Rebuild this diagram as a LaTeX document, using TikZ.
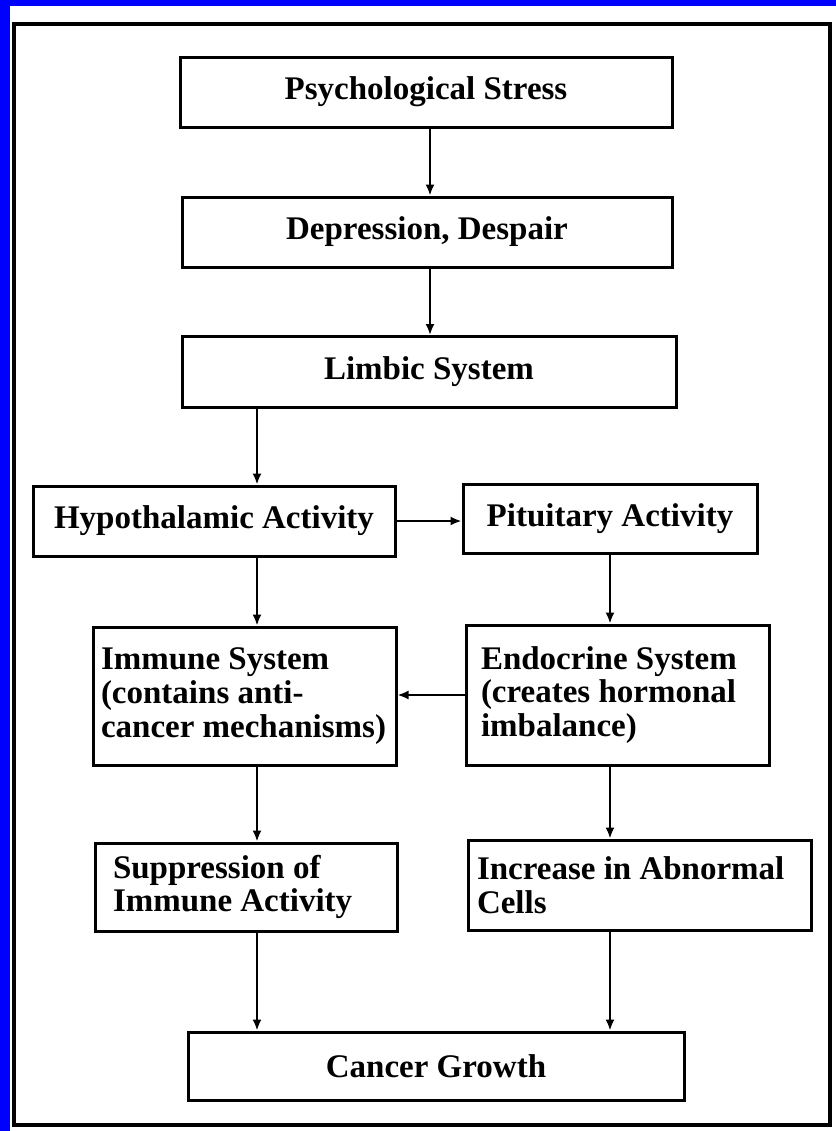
\documentclass[tikz,border=0pt]{standalone}
\usepackage{fontspec}
\setmainfont{Liberation Serif}
\usetikzlibrary{arrows.meta}

\begin{document}
\begin{tikzpicture}[x=0.5pt,y=-0.5pt]

      \fill[blue] (0,0) rectangle (836,1131);
      \fill[white] (10,6) rectangle (836,1131);
      \useasboundingbox (0,0) rectangle (836,1131);
      \draw[line width=2pt] (14,24) rectangle (830,1125);

      \coordinate (l) at (257,0);
      \coordinate (c) at (430,0);
      \coordinate (r) at (610,0);

      \begin{scope}[every node/.style={rectangle,draw,line width=1.5pt,font=\bfseries\fontsize{16.5}{16.8}\selectfont}]
        \node[minimum width=246pt,minimum height=35pt] (1) at (426,92) {Psychological Stress};
        \node[minimum width=245pt,minimum height=35pt] (2) at (427,232) {Depression, Despair};
        \node[minimum width=247pt,minimum height=35.5pt] (3) at (429,372) {Limbic System};
        \node[minimum width=181pt,minimum height=35pt] (4) at (214,521) {Hypothalamic Activity};
        \node[minimum width=147pt,minimum height=34.5pt] (5) at (610,519) {Pituitary Activity};
        \node[minimum height=69pt,text width=143.5pt,inner xsep=4pt,align=flush left] (6) at (244.5,696) {Immune System\\(contains anti-\\cancer mechanisms)};
        \node[minimum height=70pt,text width=136.5pt,inner xsep=7.5pt,align=flush left] (7) at (617.5,695) {Endocrine System\\(creates hormonal\\imbalance)};
        \node[minimum height=44pt,text width=133pt,inner xsep=9pt,align=flush left] (8) at (246,887) {Suppression of\\Immune Activity};
        \node[minimum height=45pt,text width=162.5pt,inner xsep=4.5pt,align=flush left] (9) at (639.5,885) {Increase in Abnormal\\Cells};
        \node[minimum width=248pt,minimum height=34pt] (10) at (436,1066) {Cancer Growth};
      \end{scope}

      \begin{scope}[every edge/.style={draw,line width=1pt,-{Latex[length=5.5pt,width=4.5pt]}}]
        \path (1.south -| c) edge (2.north -| c);
        \path (2.south -| c) edge (3.north -| c);
        \path (3.south -| l) edge (4.north -| l);
        \path (4.east) edge (4.east -| 5.west);
        \path (4.south -| l) edge (6.north -| l);
        \path (5.south -| r) edge (7.north -| r);
        \path (7.west) edge (7.west -| 6.east);
        \path (6.south -| l) edge (8.north -| l);
        \path (7.south -| r) edge (9.north -| r);
        \path (8.south -| l) edge (10.north -| l);
        \path (9.south -| r) edge (10.north -| r);
      \end{scope}

    \end{tikzpicture}
\end{document}
